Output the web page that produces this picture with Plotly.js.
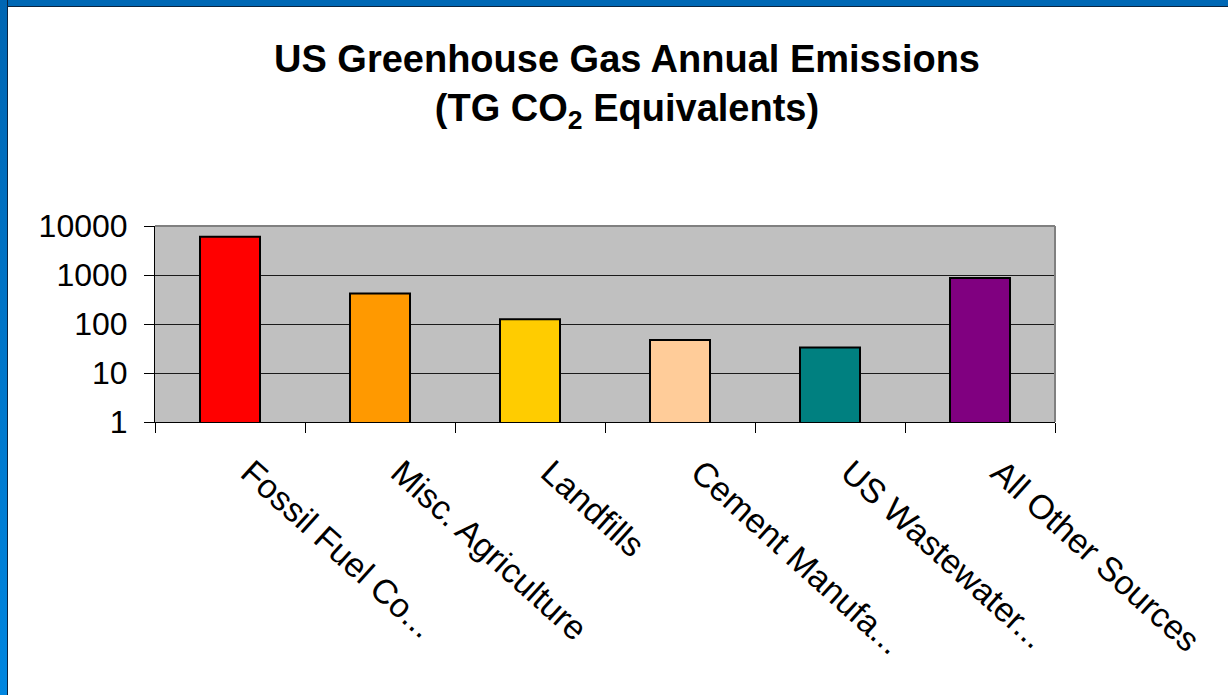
<!DOCTYPE html>
<html>
<head>
<meta charset="utf-8">
<script src="https://cdn.plot.ly/plotly-3.0.1.min.js"></script>
<style>
  html, body { margin: 0; padding: 0; background: #ffffff; overflow: hidden; }
  #chart { width: 1228px; height: 695px; position: absolute; left: 0; top: 0; }
  #frameTop { position: absolute; left: 0; top: 0; width: 1228px; height: 6px; background: #0068B5; border-bottom: 1px solid #0b2440; z-index: 5; }
  #frameLeft { position: absolute; left: 0; top: 0; width: 7px; height: 695px; background: linear-gradient(#0066B3, #0086E0); border-right: 1px solid #0b2440; z-index: 5; }
</style>
</head>
<body>
<div id="chart"></div>
<div id="frameTop"></div>
<div id="frameLeft"></div>
<script>
const categories = ["Fossil Fuel Co...", "Misc. Agriculture", "Landfills", "Cement Manufa...", "US Wastewater...", "All Other Sources"];
const emissions = [6000, 420, 125, 47, 33, 870];
const barColors = ["#FF0000", "#FF9900", "#FFCC00", "#FFCC99", "#008080", "#800080"];
const yTickValues = [1, 10, 100, 1000, 10000];
const yTickLabels = ["1", "10", "100", "1000", "10000"];

const trace = {
  type: "bar",
  x: categories,
  y: emissions,
  marker: { color: barColors, line: { color: "#000000", width: 2 } },
  hoverinfo: "x+y"
};

const font = "Arial, 'Liberation Sans', sans-serif";

const layout = {
  width: 1228,
  height: 695,
  paper_bgcolor: "#ffffff",
  plot_bgcolor: "#C0C0C0",
  margin: { l: 155, r: 173, t: 226, b: 273, pad: 0 },
  showlegend: false,
  bargap: 0.6,
  title: {
    text: "US Greenhouse Gas Annual Emissions<br>(TG CO<sub>2</sub> Equivalents)",
    font: { family: font, size: 38, color: "#000000", weight: "bold" },
    x: 627 / 1228,
    xref: "container",
    xanchor: "center",
    y: 1 - 72 / 695,
    yref: "container",
    yanchor: "top"
  },
  xaxis: {
    type: "category",
    tickson: "boundaries",
    ticks: "outside",
    ticklen: 10,
    tickwidth: 1,
    tickcolor: "#000000",
    showline: true,
    linecolor: "#000000",
    linewidth: 1,
    showgrid: false,
    tickangle: 42,
    ticklabelstandoff: 16,
    ticklabelshift: 20,
    tickfont: { family: font, size: 34, color: "#000000" },
    fixedrange: true
  },
  yaxis: {
    type: "log",
    range: [0, 4],
    tickvals: yTickValues,
    ticktext: yTickLabels,
    ticks: "outside",
    ticklen: 10,
    tickwidth: 1,
    tickcolor: "#000000",
    showline: true,
    linecolor: "#000000",
    linewidth: 1,
    showgrid: true,
    gridcolor: "#1a1a1a",
    gridwidth: 1,
    zeroline: false,
    ticklabelstandoff: 10,
    tickfont: { family: font, size: 32, color: "#000000" },
    fixedrange: true
  },
  shapes: [
    { type: "line", xref: "paper", yref: "paper", x0: 0, x1: 1, y0: 1, y1: 1, line: { color: "#808080", width: 2 } },
    { type: "line", xref: "paper", yref: "paper", x0: 1, x1: 1, y0: 0, y1: 1, line: { color: "#808080", width: 2 } }
  ]
};

Plotly.newPlot("chart", [trace], layout, { displayModeBar: false, staticPlot: true });
</script>
</body>
</html>
